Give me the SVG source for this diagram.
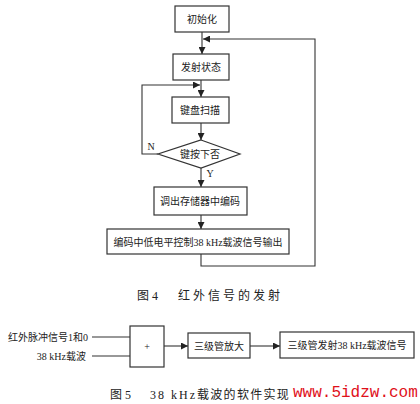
<svg xmlns="http://www.w3.org/2000/svg" width="420" height="404" viewBox="0 0 420 404">
<style>
.b{fill:#fff;stroke:#333;stroke-width:1.2}
.l{fill:none;stroke:#333;stroke-width:1.1}
.t{font-family:"Liberation Serif","Noto Sans CJK SC",serif;font-size:10px;fill:#222;text-anchor:middle;dominant-baseline:central}
.c{font-family:"Liberation Serif","Noto Sans CJK SC",serif;font-size:12px;fill:#222}
</style>
<defs>
<marker id="a" viewBox="0 0 8 8" refX="8" refY="4" markerWidth="7" markerHeight="7" orient="auto" markerUnits="userSpaceOnUse">
<path d="M0,0 L8,4 L0,8 Z" fill="#222"/>
</marker>
</defs>
<rect width="420" height="404" fill="#fff"/>
<g id="connectors">
<line class="l" x1="202" y1="32" x2="202" y2="54" marker-end="url(#a)"/>
<polyline class="l" points="201,254 201,266 315,266 315,39 203,39" marker-end="url(#a)"/>
<line class="l" x1="201" y1="80" x2="201" y2="97" marker-end="url(#a)"/>
<polyline class="l" points="158,154 142,154 142,85 200,85" marker-end="url(#a)"/>
<line class="l" x1="201" y1="123" x2="201" y2="140" marker-end="url(#a)"/>
<line class="l" x1="201" y1="168" x2="201" y2="187" marker-end="url(#a)"/>
<line class="l" x1="201" y1="215" x2="201" y2="229" marker-end="url(#a)"/>
<line class="l" x1="92" y1="337" x2="130" y2="337"/>
<line class="l" x1="92" y1="356" x2="130" y2="356"/>
<line class="l" x1="164" y1="346" x2="188" y2="346" marker-end="url(#a)"/>
<line class="l" x1="250" y1="346" x2="280" y2="346" marker-end="url(#a)"/>
</g>
<g id="init"><rect class="b" x="175" y="6" width="54" height="26"/><text class="t" x="202" y="19">初始化</text></g>
<g id="send"><rect class="b" x="173" y="54" width="56" height="26"/><text class="t" x="201" y="67">发射状态</text></g>
<g id="scan"><rect class="b" x="172" y="97" width="57" height="26"/><text class="t" x="200" y="110">键盘扫描</text></g>
<g id="decide"><polygon class="b" points="201,140 240,154 201,168 158,154"/><text class="t" x="200" y="154">键按下否</text>
<text class="t" x="151" y="146">N</text><text class="t" x="210" y="173">Y</text></g>
<g id="fetch"><rect class="b" x="154" y="187" width="93" height="28"/><text class="t" x="200" y="201">调出存储器中编码</text></g>
<g id="output"><rect class="b" x="107" y="229" width="182" height="25"/><text class="t" x="198" y="242">编码中低电平控制38 kHz载波信号输出</text></g>
<text class="c" x="137" y="300">图 4</text>
<text class="c" x="178" y="300" letter-spacing="3">红外信号的发射</text>
<g id="in1"><text class="t" x="88" y="337" style="text-anchor:end">红外脉冲信号1和0</text></g>
<g id="in2"><text class="t" x="86" y="356" style="text-anchor:end">38 kHz载波</text></g>
<g id="sum"><rect class="b" x="130" y="326" width="34" height="41"/><text class="t" x="147" y="346">+</text></g>
<g id="amp"><rect class="b" x="188" y="333" width="62" height="25"/><text class="t" x="219" y="346">三级管放大</text></g>
<g id="emit"><rect class="b" x="280" y="332" width="134" height="26"/><text class="t" x="347" y="345">三级管发射38 kHz载波信号</text></g>
<text class="c" x="110" y="399">图 5</text>
<text class="c" x="150" y="399" letter-spacing="2">38 kHz</text>
<text class="c" x="197" y="399" letter-spacing="1.3">载波的软件实现</text>
<text x="293" y="397" font-family="Liberation Mono,monospace" font-size="16" fill="#e0101a">www.5idzw.com</text>
</svg>
